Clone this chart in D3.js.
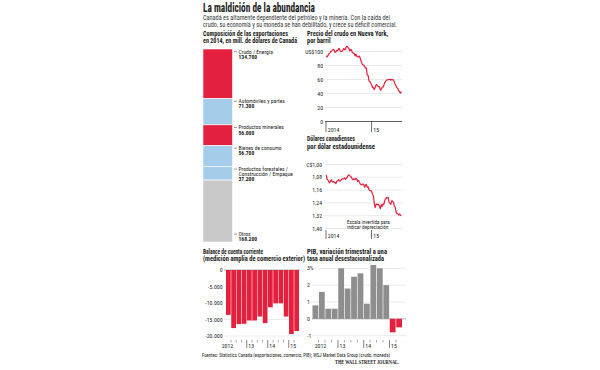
<!DOCTYPE html>
<html>
<head>
<meta charset="utf-8">
<script src="https://cdn.jsdelivr.net/npm/d3@7"></script>
<style>
body { margin: 0; background: #fff; }
text { font-family: "Liberation Sans Narrow", "Roboto Condensed", "DejaVu Sans Condensed", "Liberation Sans", sans-serif; fill: #222; }
</style>
</head>
<body>
<svg id="chart" width="600" height="370"></svg>
<script>
// exportaciones 2014, mill. de dolares canadienses
var exportLabels = [["Crudo / Energía"], ["Automóviles y partes"], ["Productos minerales"],
                    ["Bienes de consumo"], ["Productos forestales /", "Construcción / Empaque"], ["Otros"]];
var exportValues = [134700, 71300, 56000, 56700, 37200, 168200];
var exportColors = ["#e3203d", "#a5cdea", "#e3203d", "#a5cdea", "#a5cdea", "#c9c9c9"];

// crudo WTI, cierre semanal desde el 3 ene 2014
var oilStart = new Date(2014, 0, 3);
var oilWeekly = [93.9, 92.2, 94.4, 96.6, 97.5, 99.9, 100.3, 102.2, 102.6, 102.6, 98.9, 99.5, 101.7,
                 101.1, 103.7, 104.3, 100.6, 99.8, 100.0, 102.0, 104.4, 102.7, 102.7, 106.9, 107.3, 105.7,
                 104.1, 100.8, 103.1, 102.1, 97.9, 97.7, 97.4, 93.7, 95.9, 93.3, 92.3, 92.4, 93.5,
                 90.0, 85.8, 82.8, 81.0, 80.5, 78.7, 76.0, 76.5, 66.2, 65.8, 57.8, 57.1, 54.7,
                 52.7, 48.4, 48.7, 45.6, 48.2, 51.7, 52.8, 50.8, 49.8, 49.6, 44.8, 46.0, 48.9,
                 49.1, 51.6, 55.7, 57.2, 59.2, 59.4, 59.7, 59.7, 60.3, 59.1, 59.9, 59.6, 59.6,
                 56.9, 52.7, 50.9, 48.1, 47.1, 43.9, 42.5, 40.5, 43.0];
var oilTicks = [0, 20, 40, 60, 80, 100];

// dolares canadienses por dolar EE.UU., semanal, mismas fechas
var cadWeekly = [1.064, 1.093, 1.096, 1.109, 1.114, 1.103, 1.095, 1.110, 1.107, 1.110, 1.113, 1.120, 1.105,
                 1.102, 1.095, 1.102, 1.103, 1.098, 1.089, 1.090, 1.090, 1.084, 1.093, 1.087, 1.079, 1.069,
                 1.065, 1.071, 1.075, 1.081, 1.094, 1.093, 1.090, 1.095, 1.086, 1.090, 1.106, 1.099, 1.112,
                 1.122, 1.127, 1.126, 1.121, 1.127, 1.142, 1.128, 1.124, 1.142, 1.139, 1.157, 1.163, 1.163,
                 1.168, 1.186, 1.194, 1.238, 1.270, 1.250, 1.248, 1.251, 1.249, 1.263, 1.276, 1.250, 1.263,
                 1.247, 1.250, 1.225, 1.215, 1.207, 1.209, 1.205, 1.237, 1.243, 1.249, 1.227, 1.229, 1.236,
                 1.259, 1.266, 1.296, 1.307, 1.308, 1.316, 1.309, 1.317, 1.321];
var cadTicks = [1.00, 1.08, 1.16, 1.24, 1.32, 1.40];
var timeYears = [2014, 2015];

// trimestrales 2012 T1 - 2015 T2
var quarters = ["2012T1", "2012T2", "2012T3", "2012T4", "2013T1", "2013T2", "2013T3", "2013T4",
                "2014T1", "2014T2", "2014T3", "2014T4", "2015T1", "2015T2"];
var currentAccount = [-13600, -17600, -16400, -16300, -15300, -15300, -14100, -16100,
                      -11300, -10100, -10100, -14100, -19400, -18500];
var gdpGrowth = [0.8, 1.6, 0.6, 0.6, 3.0, 1.8, 2.5, 2.7, 0.9, 3.2, 3.0, 2.0, -0.8, -0.5];
var caTicks = [0, -5000, -10000, -15000, -20000];
var gdpTicks = [-1, 0, 1, 2, 3];
var yearLabels = ["2012", "13", "14", "15"];

var RED = "#e3203d", GRID = "#d4d4d4";
var svg = d3.select("#chart");
var loc = d3.formatLocale({decimal: ",", thousands: ".", grouping: [3], currency: ["$", ""], minus: "-"});
var fmtN = loc.format(",");
var fmtC = loc.format(".2f");

function txt(x, y, s, size, weight, w, anchor) {
    var t = svg.append("text")
        .attr("x", x).attr("y", y)
        .attr("font-size", size)
        .attr("font-weight", weight || "normal")
        .attr("text-anchor", anchor || "start")
        .text(s);
    if (w) t.attr("textLength", w).attr("lengthAdjust", "spacingAndGlyphs");
    return t;
}

function hline(x1, x2, y, color, sw) {
    svg.append("line").attr("x1", x1).attr("x2", x2).attr("y1", y).attr("y2", y)
        .attr("stroke", color).attr("stroke-width", sw);
}

// cabecera
txt(203, 12, "La maldición de la abundancia", 12.5, "bold", 112);
txt(203, 19.5, "Canadá es altamente dependiente del petróleo y la minería. Con la caída del", 6.8, null, 187).style("fill", "#333");
txt(203, 26.5, "crudo, su economía y su moneda se han debilitado, y crece su déficit comercial.", 6.8, null, 194).style("fill", "#333");

txt(203, 35.5, "Composición de las exportaciones", 6.4, "bold", 85);
txt(203, 42.5, "en 2014, en mill. de dólares de Canadá", 6.4, "bold", 94);
txt(307, 35.5, "Precio del crudo en Nueva York,", 6.4, "bold", 81);
txt(307, 42.5, "por barril", 6.4, "bold");
txt(307, 141, "Dólares canadienses", 6.4, "bold", 48);
txt(307, 149, "por dólar estadounidense", 6.4, "bold", 68);
txt(203, 254, "Balance de cuenta corriente", 6.4, "bold", 60);
txt(203, 261, "(medición amplia de comercio exterior)", 6.4, "bold", 102);
txt(307, 254, "PIB, variación trimestral a una", 6.4, "bold", 80);
txt(307, 261, "tasa anual desestacionalizada", 6.4, "bold", 77);

// barra apilada de exportaciones
var ends = d3.cumsum(exportValues);
var segs = exportValues.map(function(v, i) {
    return {v: v, y0: ends[i] - v, y1: ends[i], lines: exportLabels[i], color: exportColors[i], last: i == exportValues.length - 1};
});
var yExp = d3.scaleLinear().domain([0, d3.sum(exportValues)]).range([49, 242]);

svg.selectAll("rect.exp")
    .data(segs)
    .enter()
    .append("rect")
    .attr("class", "exp")
    .attr("x", 203)
    .attr("width", 29.5)
    .attr("y", d => yExp(d.y0))
    .attr("height", d => yExp(d.y1) - yExp(d.y0))
    .attr("fill", d => d.color)
    .attr("stroke", "#fff")
    .attr("stroke-width", 0.6);

segs.forEach(function(d) {
    var lh = 5.3;
    var n = d.lines.length;
    var top = d.last ? yExp(d.y1) - 0.8 - lh * n : yExp(d.y0) + 4.5;
    hline(234, 237, top - 1.8, "#555", 0.6);
    d.lines.forEach(function(s, j) {
        txt(238.5, top + j * lh, s, 5.6);
    });
    txt(238.5, top + n * lh, fmtN(d.v), 5.6, "bold");
});

// precio del crudo
var weekDates = oilWeekly.map((v, i) => d3.timeDay.offset(oilStart, 7 * i));
var xTime = d3.scaleTime().domain([new Date(2014, 0, 1), new Date(2015, 0, 1)]).range([326, 371.5]);
var yOil = d3.scaleLinear().domain([0, 100]).range([121.5, 51.5]);

oilTicks.forEach(function(t) {
    hline(325, 402, yOil(t), t == 0 ? "#333" : GRID, t == 0 ? 0.8 : 0.5);
    txt(323, yOil(t) + 2, (t == 100 ? "US$" : "") + t, 5.8, null, null, "end");
});
svg.append("path")
    .datum(oilWeekly)
    .attr("fill", "none")
    .attr("stroke", RED)
    .attr("stroke-width", 1.2)
    .attr("stroke-linejoin", "round")
    .attr("d", d3.line().x((d, i) => xTime(weekDates[i])).y(d => yOil(d)));

timeYears.forEach(function(y, i) {
    var x = xTime(new Date(y, 0, 1));
    svg.append("line").attr("x1", x).attr("x2", x).attr("y1", 121.5).attr("y2", 132)
        .attr("stroke", "#333").attr("stroke-width", 0.7);
    txt(x + 1.8, 131.5, i == 0 ? String(y) : String(y).slice(2), 5.8);
});

// dolar canadiense (escala invertida)
var yCad = d3.scaleLinear().domain([1.00, 1.40]).range([164.5, 228.5]);
cadTicks.forEach(function(t, i) {
    hline(325, 402, yCad(t), GRID, 0.5);
    txt(322, yCad(t) + 2, (i == 0 ? "C$" : "") + fmtC(t), 5.8, null, null, "end");
});
svg.append("path")
    .datum(cadWeekly)
    .attr("fill", "none")
    .attr("stroke", RED)
    .attr("stroke-width", 1.2)
    .attr("stroke-linejoin", "round")
    .attr("d", d3.line().x((d, i) => xTime(weekDates[i])).y(d => yCad(d)));

svg.append("rect").attr("x", 346).attr("y", 219.5).attr("width", 45).attr("height", 10.5).attr("fill", "#fff");
txt(347, 224, "Escala invertida para", 5.2);
txt(347, 229.3, "indicar depreciación", 5.2);

timeYears.forEach(function(y, i) {
    var x = xTime(new Date(y, 0, 1));
    svg.append("line").attr("x1", x).attr("x2", x).attr("y1", 230).attr("y2", 239)
        .attr("stroke", "#333").attr("stroke-width", 0.7);
    txt(x + 1.8, 237.5, i == 0 ? String(y) : String(y).slice(2), 5.8);
});

// barras trimestrales
function quarterAxis(xq, firstShift) {
    var step = xq.step();
    quarters.forEach(function(q, i) {
        var x = xq(q) - (step - xq.bandwidth()) / 2;
        if (i % 4 == 0) {
            if (i > 0) {
                svg.append("line").attr("x1", x).attr("x2", x).attr("y1", 340).attr("y2", 348)
                    .attr("stroke", "#333").attr("stroke-width", 0.6);
            }
            txt(i == 0 ? x + firstShift : x + 1.6, 347.5, yearLabels[i / 4], 5.8);
        } else {
            svg.append("line").attr("x1", x).attr("x2", x).attr("y1", 340).attr("y2", 342.5)
                .attr("stroke", "#555").attr("stroke-width", 0.5);
        }
    });
}

// balance de cuenta corriente
var xCA = d3.scaleBand().domain(quarters).range([226, 299]).paddingInner(0.1);
var yCA = d3.scaleLinear().domain([-20000, 0]).range([336, 270]);
caTicks.forEach(function(t) {
    hline(224, 300, yCA(t), t == 0 ? "#999" : GRID, t == 0 ? 0.8 : 0.5);
    txt(222.5, yCA(t) + 2, fmtN(t), 5.8, null, null, "end");
});
svg.selectAll("rect.ca")
    .data(currentAccount)
    .enter()
    .append("rect")
    .attr("class", "ca")
    .attr("x", (d, i) => xCA(quarters[i]))
    .attr("width", xCA.bandwidth())
    .attr("y", yCA(0))
    .attr("height", d => yCA(d) - yCA(0))
    .attr("fill", RED);
quarterAxis(xCA, -4);

// PIB
var xG = d3.scaleBand().domain(quarters).range([312.5, 402]).paddingInner(0.1);
var yG = d3.scaleLinear().domain([-1, 3]).range([335.7, 268.3]);
gdpTicks.forEach(function(t) {
    hline(312, 406, yG(t), t == 0 ? "#999" : GRID, t == 0 ? 0.8 : 0.5);
    txt(307, yG(t) + 2, t + (t == 3 ? "%" : ""), 5.8);
});
svg.selectAll("rect.gdp")
    .data(gdpGrowth)
    .enter()
    .append("rect")
    .attr("class", "gdp")
    .attr("x", (d, i) => xG(quarters[i]))
    .attr("width", xG.bandwidth())
    .attr("y", d => Math.min(yG(d), yG(0)))
    .attr("height", d => Math.abs(yG(d) - yG(0)))
    .attr("fill", d => d < 0 ? RED : "#8e8e8e");
quarterAxis(xG, 2.5);

// pie
txt(202, 356.5, "Fuentes: Statistics Canada (exportaciones, comercio, PIB); WSJ Market Data Group (crudo, moneda)", 5.6, null, 188);
txt(399, 364, "THE WALL STREET JOURNAL.", 5.6, "bold", 64, "end")
    .style("font-family", "'Liberation Serif', 'DejaVu Serif', serif");
</script>
</body>
</html>
